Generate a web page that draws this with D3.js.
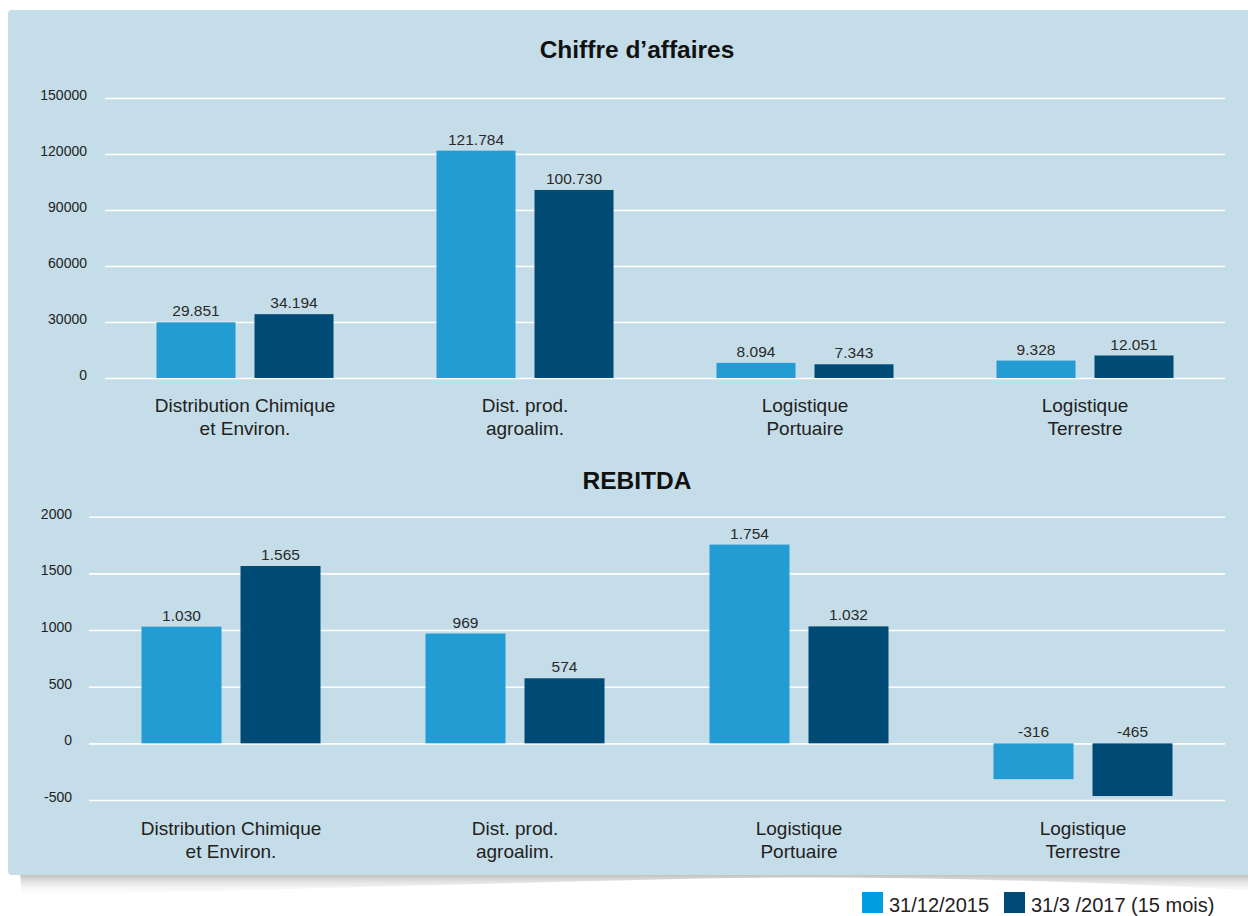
<!DOCTYPE html>
<html>
<head>
<meta charset="utf-8">
<script src="https://cdn.jsdelivr.net/npm/d3@7"></script>
<style>
  html, body { margin: 0; padding: 0; background: #ffffff; }
  svg { display: block; font-family: "Liberation Sans", Arial, sans-serif; }
</style>
</head>
<body>
<svg id="chart" width="1248" height="916"></svg>
<script>
// ---------- DATA ----------
const categories = [["Distribution Chimique", "et Environ."], ["Dist. prod.", "agroalim."], ["Logistique", "Portuaire"], ["Logistique", "Terrestre"]];
const seriesNames = ["31/12/2015", "31/3 /2017 (15 mois)"];
const caValues2015 = [29851, 121784, 8094, 9328];
const caValues2017 = [34194, 100730, 7343, 12051];
const rebitda2015 = [1030, 969, 1754, -316];
const rebitda2017 = [1565, 574, 1032, -465];
const caTicks = [0, 30000, 60000, 90000, 120000, 150000];
const rebitdaTicks = [-500, 0, 500, 1000, 1500, 2000];
const titles = ["Chiffre d\u2019affaires", "REBITDA"];

// ---------- STYLE ----------
const barColors = ["#239cd3", "#004a76"];
const legendColors = ["#009ee0", "#004a78"];
const panelColor = "#c5dde8";
const textColor = "#222";

const svg = d3.select("#chart");

// shadow under panel
const defs = svg.append("defs");
const sg = defs.append("linearGradient").attr("id", "shadowGrad").attr("x1", 0).attr("y1", 0).attr("x2", 0).attr("y2", 1);
sg.append("stop").attr("offset", "0%").attr("stop-color", "#b0b0b0");
sg.append("stop").attr("offset", "100%").attr("stop-color", "#ffffff").attr("stop-opacity", 0);
svg.append("path")
  .attr("d", "M20,872 L1248,872 L1248,890 Q900,872 640,880 Q300,888 22,897 Z")
  .attr("fill", "url(#shadowGrad)");

// panel
svg.append("rect").attr("x", 8).attr("y", 10).attr("width", 1250).attr("height", 865)
  .attr("rx", 4).attr("fill", panelColor);

const fmt = d => d3.format(",")(d).replace(/,/g, ".").replace("\u2212", "-");

function drawChart(cfg) {
  const g = svg.append("g");
  const y = d3.scaleLinear().domain(cfg.domain).range(cfg.yRange);
  const x0 = d3.scaleBand().domain(d3.range(categories.length)).range(cfg.xRange);
  const bw = x0.bandwidth();
  const pad = (bw - (2 * cfg.barW + cfg.gap)) / 2;
  const x1 = d3.scaleBand().domain([0, 1]).range([pad, bw - pad]).paddingInner(cfg.gap / (cfg.barW + cfg.gap));

  // title
  g.append("text").attr("x", 637).attr("y", cfg.titleY).attr("text-anchor", "middle")
    .attr("font-size", 24.5).attr("font-weight", "bold").attr("fill", "#111").text(cfg.title);

  // gridlines + tick labels
  const axis = d3.axisLeft(y).tickValues(cfg.ticks).tickSize(-(cfg.xRange[1] - cfg.xRange[0])).tickFormat(d => String(d));
  const ag = g.append("g").attr("transform", `translate(${cfg.xRange[0]},0)`).call(axis);
  ag.select(".domain").remove();
  ag.selectAll(".tick line").attr("stroke", "#ffffff").attr("stroke-width", 1.6);
  ag.selectAll(".tick text").attr("x", -(cfg.xRange[0] - cfg.labelRight)).attr("dy", "0.1em")
    .attr("font-size", 14).attr("fill", textColor).attr("font-family", "Liberation Sans, Arial, sans-serif");

  // bars
  const series = [cfg.s1, cfg.s2];
  series.forEach((vals, si) => {
    g.selectAll(null).data(vals).enter().append("rect")
      .attr("x", (d, i) => x0(i) + x1(si))
      .attr("width", x1.bandwidth())
      .attr("y", d => y(Math.max(0, d)))
      .attr("height", d => Math.abs(y(d) - y(0)))
      .attr("fill", barColors[si]);
    g.selectAll(null).data(vals).enter().append("text")
      .attr("x", (d, i) => x0(i) + x1(si) + x1.bandwidth() / 2)
      .attr("y", d => Math.min(y(d), y(0)) - 6)
      .attr("text-anchor", "middle").attr("font-size", 15.5).attr("fill", "#2a2a2a")
      .text(fmt);
  });

  // category labels
  categories.forEach((lines, i) => {
    const t = g.append("text").attr("x", x0(i) + bw / 2).attr("y", cfg.catY)
      .attr("text-anchor", "middle").attr("font-size", 19).attr("fill", textColor);
    lines.forEach((ln, li) => t.append("tspan").attr("x", x0(i) + bw / 2).attr("dy", li === 0 ? 0 : 23).text(ln));
  });
}

drawChart({ title: titles[0], titleY: 58, domain: [0, 150000], yRange: [378, 98], xRange: [105, 1225],
  ticks: caTicks, s1: caValues2015, s2: caValues2017, barW: 79, gap: 19, catY: 412, labelRight: 87 });
drawChart({ title: titles[1], titleY: 489, domain: [-500, 2000], yRange: [800, 516.7], xRange: [89, 1225],
  ticks: rebitdaTicks, s1: rebitda2015, s2: rebitda2017, barW: 80, gap: 19, catY: 835, labelRight: 72 });

// legend
const legendX = [862, 1004];
seriesNames.forEach((name, i) => {
  svg.append("rect").attr("x", legendX[i]).attr("y", 892).attr("width", 21).attr("height", 21).attr("fill", legendColors[i]);
  svg.append("text").attr("x", legendX[i] + 27).attr("y", 912).attr("font-size", 20).attr("fill", textColor).text(name);
});
</script>
</body>
</html>
